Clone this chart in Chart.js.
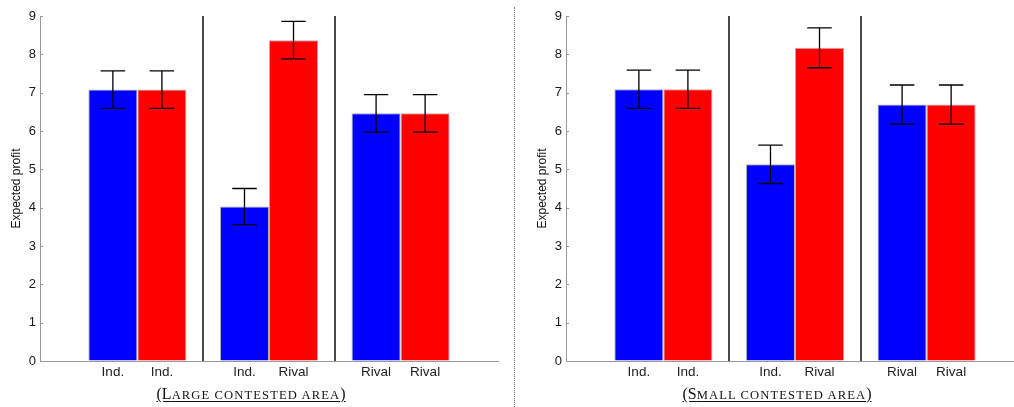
<!DOCTYPE html>
<html>
<head>
<meta charset="utf-8">
<script src="https://cdn.jsdelivr.net/npm/chart.js@4/dist/chart.umd.min.js"></script>
<style>
  html, body { margin: 0; padding: 0; background: #fff; overflow: hidden; }
  body { width: 1014px; height: 407px; position: relative; }
  .panel { position: absolute; top: 0; width: 514px; height: 407px; }
  .panel canvas { display: block; }
  .caption {
    position: absolute; top: 386px; width: 514px; left: -6px;
    text-align: center; font-family: "Liberation Serif", "Times New Roman", serif;
    font-size: 16px; line-height: 16px; color: #111;
    text-decoration: underline; text-underline-offset: 2px;
  }
  .caption .sc { font-size: 12.6px; letter-spacing: 1.1px; }
  #divider {
    position: absolute; left: 514px; top: 7px; height: 400px; width: 0;
    border-left: 1px dotted #777;
  }
</style>
</head>
<body>
<div class="panel" style="left:0">
  <canvas id="large-chart" width="514" height="407"></canvas>
  <div class="caption">(L<span class="sc">ARGE CONTESTED AREA</span>)</div>
</div>
<div id="divider"></div>
<div class="panel" style="left:526px">
  <canvas id="small-chart" width="514" height="407"></canvas>
  <div class="caption">(S<span class="sc">MALL CONTESTED AREA</span>)</div>
</div>
<script>
// Bar groups (x positions 1..3) and the label under each bar
const groups = [1, 2, 3];
const blueLabels = ["Ind.", "Ind.", "Rival"];
const redLabels = ["Ind.", "Rival", "Rival"];
const yTicks = [0, 1, 2, 3, 4, 5, 6, 7, 8, 9];

// Large contested area
const largeBlue = [7.08, 4.03, 6.46];
const largeRed = [7.08, 8.37, 6.46];
const largeBlueErr = [0.49, 0.47, 0.49];
const largeRedErr = [0.49, 0.49, 0.49];

// Small contested area
const smallBlue = [7.09, 5.13, 6.69];
const smallRed = [7.09, 8.17, 6.69];
const smallBlueErr = [0.5, 0.5, 0.51];
const smallRedErr = [0.5, 0.52, 0.51];

const BLUE = "#0000ff";
const RED = "#ff0000";

// Error bars, group separators, inward y ticks and per-bar labels
const extrasPlugin = {
  id: "extras",
  afterDatasetsDraw(chart) {
    const ctx = chart.ctx;
    const { x: xs, y: ys } = chart.scales;
    const area = chart.chartArea;
    ctx.save();

    // separators between groups
    ctx.strokeStyle = "#1a1a1a";
    ctx.lineWidth = 1.6;
    for (let i = 0; i < groups.length - 1; i++) {
      const px = Math.round(xs.getPixelForValue((groups[i] + groups[i + 1]) / 2));
      ctx.beginPath();
      ctx.moveTo(px, ys.getPixelForValue(9));
      ctx.lineTo(px, area.bottom);
      ctx.stroke();
    }

    // error bars
    ctx.strokeStyle = "#000";
    ctx.lineWidth = 1.3;
    chart.data.datasets.forEach((ds, di) => {
      const meta = chart.getDatasetMeta(di);
      meta.data.forEach((bar, i) => {
        const v = ds.data[i].y;
        const e = ds.errors[i];
        const top = ys.getPixelForValue(v + e);
        const bot = ys.getPixelForValue(v - e);
        const half = bar.width / 4;
        ctx.beginPath();
        ctx.moveTo(bar.x, top);
        ctx.lineTo(bar.x, bot);
        ctx.moveTo(bar.x - half, top);
        ctx.lineTo(bar.x + half, top);
        ctx.moveTo(bar.x - half, bot);
        ctx.lineTo(bar.x + half, bot);
        ctx.stroke();
      });
    });

    // inward tick marks on the y axis
    ctx.strokeStyle = "#999";
    ctx.lineWidth = 1;
    yTicks.forEach((t) => {
      const py = Math.round(ys.getPixelForValue(t)) + 0.5;
      ctx.beginPath();
      ctx.moveTo(area.left, py);
      ctx.lineTo(area.left + 3, py);
      ctx.stroke();
    });

    // labels under each bar
    ctx.fillStyle = "#222";
    ctx.font = "13.5px 'Liberation Sans', Arial, sans-serif";
    ctx.textAlign = "center";
    ctx.textBaseline = "top";
    chart.data.datasets.forEach((ds, di) => {
      const meta = chart.getDatasetMeta(di);
      meta.data.forEach((bar, i) => {
        ctx.fillText(ds.barLabels[i], bar.x, area.bottom + 5);
      });
    });
    ctx.restore();
  },
};

function renderPanel(canvasId, blue, red, blueErr, redErr) {
  const ctx = document.getElementById(canvasId).getContext("2d");
  const barStyle = {
    borderColor: "rgba(80,80,80,0.45)",
    borderWidth: 1,
    categoryPercentage: 0.745,
    barPercentage: 1,
  };

  return new Chart(ctx, {
    type: "bar",
    data: {
      datasets: [
        {
          data: groups.map((g, i) => ({ x: g, y: blue[i] })),
          errors: blueErr,
          barLabels: blueLabels,
          backgroundColor: BLUE,
          ...barStyle,
        },
        {
          data: groups.map((g, i) => ({ x: g, y: red[i] })),
          errors: redErr,
          barLabels: redLabels,
          backgroundColor: RED,
          ...barStyle,
        },
      ],
    },
    options: {
      responsive: false,
      animation: false,
      layout: { padding: { top: 16, right: 16, bottom: 0, left: 0 } },
      plugins: { legend: { display: false }, tooltip: { enabled: false } },
      scales: {
        x: {
          type: "linear",
          offset: false,
          min: 0.26,
          max: 3.74,
          afterBuildTicks: (scale) => {
            scale.ticks = groups.map((g) => ({ value: g }));
          },
          ticks: { display: false },
          grid: { display: false },
          border: { display: true, color: "#999", width: 1 },
          afterFit: (scale) => { scale.height = 46; },
        },
        y: {
          min: 0,
          max: 9,
          afterBuildTicks: (scale) => {
            scale.ticks = yTicks.map((t) => ({ value: t }));
          },
          ticks: {
            padding: 4,
            color: "#1a1a1a",
            font: { family: "'Liberation Sans', Arial, sans-serif", size: 13 },
          },
          grid: { display: true, drawOnChartArea: false, drawTicks: false },
          border: { display: true, color: "#999", width: 1 },
          title: {
            display: true,
            text: "Expected profit",
            color: "#111",
            font: { family: "'Liberation Sans', Arial, sans-serif", size: 12 },
            padding: { top: 9, bottom: 0 },
          },
          afterFit: (scale) => { scale.width = 40; },
        },
      },
    },
    plugins: [extrasPlugin],
  });
}

renderPanel("large-chart", largeBlue, largeRed, largeBlueErr, largeRedErr);
renderPanel("small-chart", smallBlue, smallRed, smallBlueErr, smallRedErr);
</script>
</body>
</html>
